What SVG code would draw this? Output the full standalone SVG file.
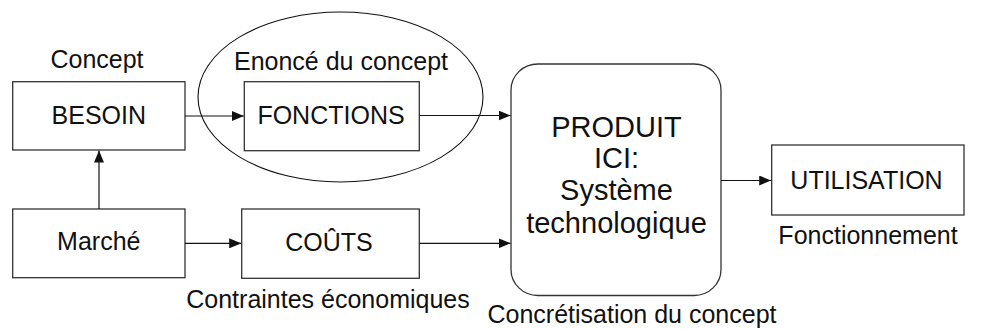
<svg xmlns="http://www.w3.org/2000/svg" width="981" height="329" viewBox="0 0 981 329">
  <style>
    .box { fill: #ffffff; stroke: #333333; stroke-width: 1.3; }
    .lbl { font-family: "Liberation Sans", Arial, Helvetica, sans-serif; font-size: 25px; fill: #111111; }
    .big { font-family: "Liberation Sans", Arial, Helvetica, sans-serif; font-size: 29px; fill: #111111; text-anchor: middle; }
    .mid { text-anchor: middle; }
    .wire { fill: none; stroke: #111111; stroke-width: 1.2; }
  </style>
  <defs>
    <marker id="arrow" viewBox="0 0 12 10" refX="12" refY="5" markerWidth="12" markerHeight="10" markerUnits="userSpaceOnUse" orient="auto">
      <path d="M0,0 L12,5 L0,10 Z" fill="#111111"/>
    </marker>
  </defs>

  <rect width="981" height="329" fill="#ffffff"/>

  <!-- free-standing captions -->
  <text class="lbl mid" x="97" y="67.5">Concept</text>
  <text class="lbl mid" x="341" y="70">Enoncé du concept</text>
  <text class="lbl mid" x="328" y="307.5">Contraintes économiques</text>
  <text class="lbl mid" x="632" y="322.5">Concrétisation du concept</text>
  <text class="lbl mid" x="868" y="244">Fonctionnement</text>

  <!-- nodes -->
  <g id="besoin">
    <rect class="box" x="12.7" y="81.7" width="172.3" height="68.3"/>
    <text class="lbl mid" x="98.8" y="123.5">BESOIN</text>
  </g>
  <g id="fonctions">
    <rect class="box" x="244.3" y="81.7" width="175" height="69"/>
    <text class="lbl mid" x="331" y="124">FONCTIONS</text>
  </g>
  <g id="marche">
    <rect class="box" x="12.7" y="209" width="172.3" height="68.7"/>
    <text class="lbl mid" x="98.8" y="250">Marché</text>
  </g>
  <g id="couts">
    <rect class="box" x="241.7" y="209" width="177.6" height="69.3"/>
    <text class="lbl mid" x="329" y="251">COÛTS</text>
  </g>
  <g id="produit">
    <rect class="box" x="511" y="64" width="210" height="231.5" rx="27" ry="26"/>
    <text class="big" x="616.5" y="137.3">PRODUIT</text>
    <text class="big" x="616.5" y="168">ICI:</text>
    <text class="big" x="616.5" y="199.5">Système</text>
    <text class="big" x="616.5" y="233">technologique</text>
  </g>
  <g id="utilisation">
    <rect class="box" x="771.7" y="145" width="192.3" height="70"/>
    <text class="lbl mid" x="866.5" y="188.5">UTILISATION</text>
  </g>

  <!-- grouping of the concept statement -->
  <g id="enonce">
    <ellipse cx="340.5" cy="97" rx="142.5" ry="85" fill="none" stroke="#111111" stroke-width="1.1"/>
  </g>

  <!-- connectors -->
  <g id="connectors">
    <line class="wire" x1="185" y1="116" x2="243.8" y2="116" marker-end="url(#arrow)"/>
    <line class="wire" x1="419.3" y1="115.5" x2="510.5" y2="115.5" marker-end="url(#arrow)"/>
    <line class="wire" x1="99" y1="209" x2="99" y2="150.5" marker-end="url(#arrow)"/>
    <line class="wire" x1="185" y1="243.3" x2="241.2" y2="243.3" marker-end="url(#arrow)"/>
    <line class="wire" x1="419.3" y1="243.3" x2="510.5" y2="243.3" marker-end="url(#arrow)"/>
    <line class="wire" x1="721" y1="180.5" x2="771.2" y2="180.5" marker-end="url(#arrow)"/>
  </g>
</svg>
